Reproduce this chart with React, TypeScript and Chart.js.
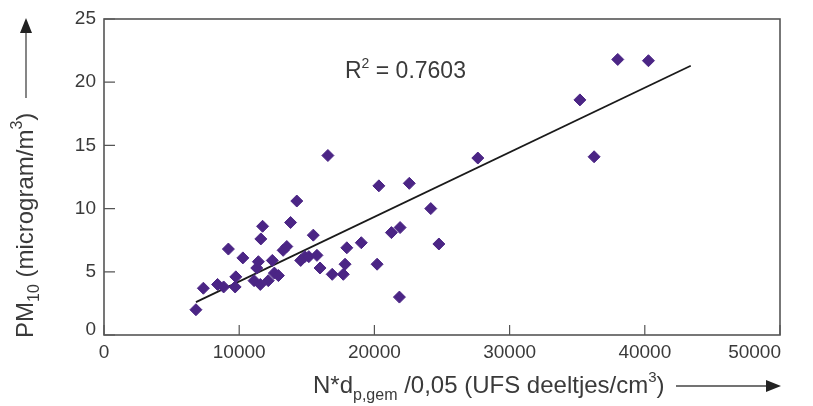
import React, { useEffect, useRef } from "react";
import { Chart, registerables } from "chart.js";

Chart.register(...registerables);

const xValues = [6800, 7350, 8400, 8850, 9200, 9700, 9750, 10270, 11100, 11300, 11420, 11560, 11600, 11730, 12150, 12450, 12600, 12900, 13250, 13520, 13800, 14260, 14550, 14850, 15150, 15480, 15750, 15980, 16560, 16880, 17700, 17830, 17960, 19030, 20200, 20330, 21260, 21900, 21850, 22580, 24170, 24770, 27650, 35200, 36250, 38000, 40270];
const yValues = [2.0, 3.7, 4.0, 3.8, 6.8, 3.8, 4.6, 6.1, 4.3, 5.3, 5.8, 4.0, 7.6, 8.6, 4.3, 5.9, 4.9, 4.7, 6.7, 7.0, 8.9, 10.6, 5.9, 6.2, 6.2, 7.9, 6.3, 5.3, 14.2, 4.8, 4.8, 5.6, 6.9, 7.3, 5.6, 11.8, 8.1, 8.5, 3.0, 12.0, 10.0, 7.2, 14.0, 18.6, 14.1, 21.8, 21.7];
const trendX = [6800, 43400];
const trendY = [2.6, 21.3];
const xTicks = [0, 10000, 20000, 30000, 40000, 50000];
const yTicks = [0, 5, 10, 15, 20, 25];
const r2Label = "0.7603";

const FONT = '"Liberation Sans", Arial, Helvetica, sans-serif';
const TEXT = "#3a3a3a";

type Seg = { t: string; size: number; dy: number };

function drawRich(ctx: CanvasRenderingContext2D, segs: Seg[], x: number, y: number) {
  let cx = x;
  for (const s of segs) {
    ctx.font = `${s.size}px ${FONT}`;
    ctx.fillText(s.t, cx, y + s.dy);
    cx += ctx.measureText(s.t).width;
  }
}

const decorPlugin = {
  id: "decor",
  afterDraw(chart: any) {
    const ctx: CanvasRenderingContext2D = chart.ctx;
    const { left, right, top, bottom } = chart.chartArea;
    const xs = chart.scales.x;
    const ys = chart.scales.y;
    ctx.save();
    // frame
    ctx.strokeStyle = "#555";
    ctx.lineWidth = 1.6;
    ctx.strokeRect(left, top, right - left, bottom - top);
    // ticks inside
    ctx.lineWidth = 1.2;
    ctx.beginPath();
    for (const v of xTicks) {
      const px = xs.getPixelForValue(v);
      ctx.moveTo(px, bottom);
      ctx.lineTo(px, bottom - 10);
    }
    for (const v of yTicks) {
      const py = ys.getPixelForValue(v);
      ctx.moveTo(left, py);
      ctx.lineTo(left + 11, py);
    }
    ctx.stroke();
    // tick labels
    ctx.fillStyle = TEXT;
    ctx.font = `19px ${FONT}`;
    ctx.textBaseline = "middle";
    ctx.textAlign = "center";
    for (const v of xTicks) {
      const px = xs.getPixelForValue(v);
      const s = String(v);
      const w = ctx.measureText(s).width;
      const cx = Math.min(px, 781 - w / 2);
      ctx.fillText(s, cx, bottom + 18);
    }
    ctx.textAlign = "right";
    for (const v of yTicks) {
      const py = ys.getPixelForValue(v);
      ctx.fillText(String(v), left - 8, py - (v === 0 ? 5 : 0));
    }
    // R² label
    ctx.textAlign = "left";
    ctx.textBaseline = "alphabetic";
    drawRich(ctx, [
      { t: "R", size: 23, dy: 0 },
      { t: "2", size: 14, dy: -10 },
      { t: " = " + r2Label, size: 23, dy: 0 },
    ], 345, 78);
    // x title
    drawRich(ctx, [
      { t: "N*d", size: 24, dy: 0 },
      { t: "p,gem", size: 16, dy: 7 },
      { t: " /0,05 (UFS deeltjes/cm", size: 24, dy: 0 },
      { t: "3", size: 15, dy: -11 },
      { t: ")", size: 24, dy: 0 },
    ], 313, 393);
    // x arrow
    ctx.strokeStyle = "#444";
    ctx.fillStyle = "#222";
    ctx.lineWidth = 1.3;
    ctx.beginPath();
    ctx.moveTo(676, 386);
    ctx.lineTo(768, 386);
    ctx.stroke();
    ctx.beginPath();
    ctx.moveTo(781, 386);
    ctx.lineTo(766, 380);
    ctx.lineTo(766, 392);
    ctx.closePath();
    ctx.fill();
    // y title
    ctx.save();
    ctx.translate(33, 338);
    ctx.rotate(-Math.PI / 2);
    ctx.fillStyle = TEXT;
    drawRich(ctx, [
      { t: "PM", size: 24, dy: 0 },
      { t: "10", size: 16, dy: 6 },
      { t: " (microgram/m", size: 24, dy: 0 },
      { t: "3", size: 16, dy: -11 },
      { t: ")", size: 24, dy: 0 },
    ], 0, 0);
    ctx.restore();
    // y arrow
    ctx.beginPath();
    ctx.moveTo(26, 98);
    ctx.lineTo(26, 30);
    ctx.stroke();
    ctx.beginPath();
    ctx.moveTo(26, 18);
    ctx.lineTo(20, 33);
    ctx.lineTo(32, 33);
    ctx.closePath();
    ctx.fill();
    ctx.restore();
  },
};

export default function App() {
  const ref = useRef<HTMLCanvasElement | null>(null);
  useEffect(() => {
    if (!ref.current) return;
    const points = xValues.map((x, i) => ({ x, y: yValues[i] }));
    const trend = trendX.map((x, i) => ({ x, y: trendY[i] }));
    const chart = new Chart(ref.current, {
      type: "scatter",
      data: {
        datasets: [
          {
            type: "line",
            label: "trend",
            data: trend,
            borderColor: "#1a1a1a",
            borderWidth: 1.8,
            pointRadius: 0,
            fill: false,
            order: 2,
          } as any,
          {
            label: "PM10",
            data: points,
            pointStyle: "rectRot",
            pointRadius: 6,
            backgroundColor: "#4b2585",
            borderColor: "#4b2585",
            borderWidth: 1,
            order: 1,
          },
        ],
      },
      options: {
        animation: false,
        responsive: false,
        maintainAspectRatio: false,
        layout: { padding: { left: 104, right: 33, top: 19, bottom: 71 } },
        plugins: { legend: { display: false }, tooltip: { enabled: false } },
        scales: {
          x: { type: "linear", min: 0, max: 50000, display: false },
          y: { type: "linear", min: 0, max: 25, display: false },
        },
      },
      plugins: [decorPlugin],
    });
    return () => chart.destroy();
  }, []);
  return (
    <div style={{ position: "fixed", left: 0, top: 0, width: 813, height: 406, background: "#fff" }}>
      <canvas ref={ref} width={813} height={406} style={{ width: 813, height: 406, display: "block" }} />
    </div>
  );
}
